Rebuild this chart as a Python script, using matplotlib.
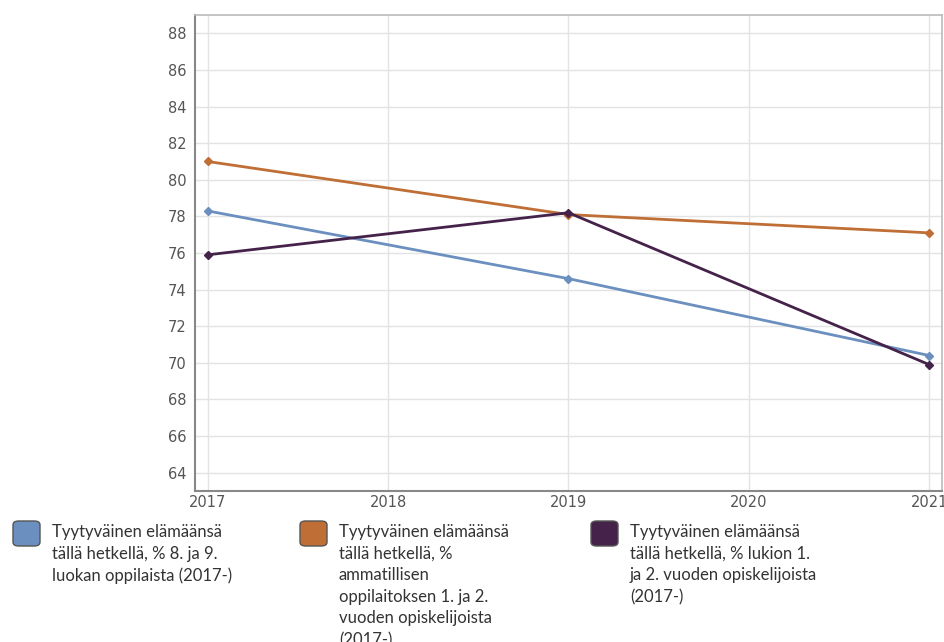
import numpy as np
import matplotlib
matplotlib.use("Agg")
from matplotlib import pyplot as plt
from matplotlib.patches import FancyBboxPatch

years = [2017, 2019, 2021]
perus = [78.3, 74.6, 70.4]      # 8. ja 9. luokka
ammatti = [81.0, 78.1, 77.1]    # ammatillinen oppilaitos
lukio = [75.9, 78.2, 69.9]      # lukio

labels = [
    "Tyytyväinen elämäänsä\ntällä hetkellä, % 8. ja 9.\nluokan oppilaista (2017-)",
    "Tyytyväinen elämäänsä\ntällä hetkellä, %\nammatillisen\noppilaitoksen 1. ja 2.\nvuoden opiskelijoista\n(2017-)",
    "Tyytyväinen elämäänsä\ntällä hetkellä, % lukion 1.\nja 2. vuoden opiskelijoista\n(2017-)",
]
colors = ['#6b8fbf', '#bf6e35', '#45224a']

fig = plt.figure(figsize=(9.45, 6.42), dpi=100)
ax = fig.add_axes([0.2063, 0.2352, 0.7905, 0.7414])

for vals, c in zip([perus, ammatti, lukio], colors):
    ax.plot(years, vals, color=c, lw=2, marker='D', ms=4, zorder=3)

ax.set_xlim(2016.93, 2021.07)
ax.set_ylim(63, 89)
ax.set_xticks([2017, 2018, 2019, 2020, 2021])
ax.set_yticks(np.arange(64, 89, 2))
ax.grid(color='#e3e3e3', lw=1)
ax.set_axisbelow(True)
ax.tick_params(colors='#555555', labelsize=10.5, length=0, pad=6)
ax.tick_params(axis='x', pad=3)
for side in ['left', 'bottom']:
    ax.spines[side].set_color('#888888')
    ax.spines[side].set_linewidth(1.5)
for side in ['top', 'right']:
    ax.spines[side].set_color('#bbbbbb')
    ax.spines[side].set_linewidth(1.2)

# legend drawn by hand, three columns
sw_x = [13, 300, 591]
for x0, lab, c in zip(sw_x, labels, colors):
    fx = x0 / 945
    box = FancyBboxPatch((fx, 1 - 546 / 642), 27 / 945, 25 / 642,
                         boxstyle='round,pad=0,rounding_size=0.006',
                         transform=fig.transFigure, facecolor=c,
                         edgecolor='#555555', lw=1)
    fig.add_artist(box)
    fig.text((x0 + 39) / 945, 1 - 524 / 642, lab, family='Lato', fontsize=12,
             color='#333333', va='top', ha='left', linespacing=1.43)

fig.savefig('out.png', dpi=100)
